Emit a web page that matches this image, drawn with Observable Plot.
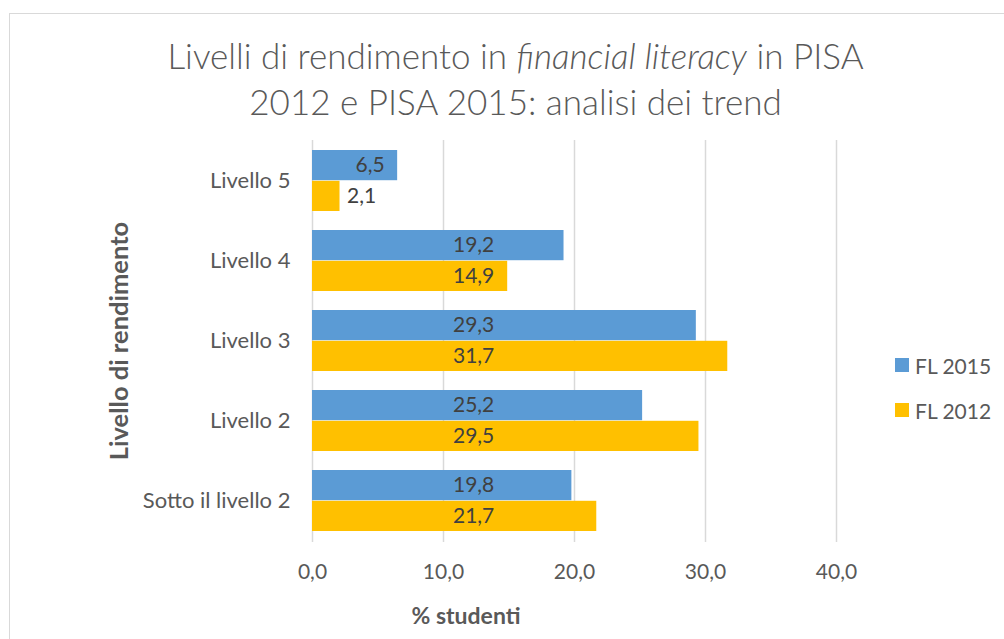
<!DOCTYPE html>
<html>
<head>
<meta charset="utf-8">
<script src="https://cdn.jsdelivr.net/npm/d3@7"></script>
<script src="https://cdn.jsdelivr.net/npm/@observablehq/plot@0.6"></script>
<style>
  html, body { margin: 0; padding: 0; background: #fff; }
  #wrap { position: relative; width: 1004px; height: 639px; overflow: hidden; font-family: Lato, "Open Sans", sans-serif; color: #595959; }
  #border { position: absolute; left: 9px; top: 13px; width: 1100px; height: 800px; border: 1.5px solid #d9d9d9; box-sizing: border-box; }
  #chart { position: absolute; left: 0; top: 0; }
  #title { position: absolute; left: 0; top: 32px; width: 1031px; text-align: center; font-size: 35px; font-weight: 300; line-height: 46px; color: #595959; }
  #ytitle { position: absolute; left: 118px; top: 341px; transform: translate(-50%, -50%) rotate(-90deg); white-space: nowrap; font-weight: bold; font-size: 25.5px; color: #595959; }
  #xtitle { position: absolute; left: 466px; top: 615px; transform: translate(-50%, -50%); white-space: nowrap; font-weight: bold; font-size: 23px; color: #595959; }
  .leg { position: absolute; left: 895px; display: flex; align-items: center; font-size: 21px; color: #595959; white-space: nowrap; }
  .leg span.sw { display: inline-block; width: 14px; height: 14px; margin-right: 6px; }
</style>
</head>
<body>
<div id="wrap">
  <div id="border"></div>
  <div id="chart"></div>
  <div id="title">Livelli di rendimento in <i>financial literacy</i> in PISA<br>2012 e PISA 2015: analisi dei trend</div>
  <div id="ytitle">Livello di rendimento</div>
  <div id="xtitle">% studenti</div>
  <div id="legend"></div>
</div>
<script>
const levels = ["Livello 5", "Livello 4", "Livello 3", "Livello 2", "Sotto il livello 2"];
const values2015 = [6.5, 19.2, 29.3, 25.2, 19.8];
const values2012 = [2.1, 14.9, 31.7, 29.5, 21.7];
const seriesNames = ["FL 2015", "FL 2012"];
const seriesColors = ["#5B9BD5", "#FFC000"];
const xTicks = [0, 10, 20, 30, 40];

const fmt = d => d.toFixed(1).replace(".", ",");

const rows2015 = levels.map((level, i) => ({level, value: values2015[i], series: seriesNames[0]}));
const rows2012 = levels.map((level, i) => ({level, value: values2012[i], series: seriesNames[1]}));

const W = 1004, H = 639;
const mL = 312, mR = 168, mT = 140, mB = 97;
const padIn = 0.234, padOut = 0.117;
const step = (H - mT - mB) / (levels.length - padIn + 2 * padOut);
const bw = step * (1 - padIn);
const half = bw / 2;

// label placement rule (Excel-like): small bars outside/inside end, large bars at a common position
const labelMid = 12.3;
function labelMarks(rows, dy) {
  const outside = rows.filter(d => d.value < 5);
  const insideEnd = rows.filter(d => d.value >= 5 && d.value < 10);
  const mid = rows.filter(d => d.value >= 10);
  return [
    Plot.text(outside, {x: "value", y: "level", text: d => fmt(d.value), textAnchor: "start", dx: 7, dy, fill: "#404040", fontSize: 21}),
    Plot.text(insideEnd, {x: "value", y: "level", text: d => fmt(d.value), textAnchor: "end", dx: -13, dy, fill: "#404040", fontSize: 21}),
    Plot.text(mid, {x: () => labelMid, y: "level", text: d => fmt(d.value), textAnchor: "middle", dy, fill: "#404040", fontSize: 21})
  ];
}

const chart = Plot.plot({
  width: W,
  height: H,
  marginLeft: mL,
  marginRight: mR,
  marginTop: mT,
  marginBottom: mB,
  style: {fontFamily: "Lato, 'Open Sans', sans-serif", fontSize: "21px", color: "#595959", background: "transparent", overflow: "visible"},
  x: {domain: [0, 40], label: null},
  y: {domain: levels, paddingInner: padIn, paddingOuter: padOut, label: null},
  marks: [
    Plot.ruleX(xTicks, {stroke: "#d9d9d9", strokeWidth: 1.5}),
    Plot.axisX({ticks: xTicks, tickFormat: fmt, tickSize: 0, tickPadding: 22, fontSize: 21, label: null}),
    Plot.axisY({tickSize: 0, tickPadding: 22, fontSize: 22, label: null}),
    Plot.barX(rows2015, {x: "value", y: "level", fill: seriesColors[0], insetBottom: half}),
    Plot.barX(rows2012, {x: "value", y: "level", fill: seriesColors[1], insetTop: half}),
    ...labelMarks(rows2015, -half / 2),
    ...labelMarks(rows2012, half / 2)
  ]
});
document.getElementById("chart").appendChild(chart);

// legend
const legend = document.getElementById("legend");
const legTops = [365, 410];
seriesNames.forEach((name, i) => {
  const el = document.createElement("div");
  el.className = "leg";
  el.style.top = (legTops[i] - 13) + "px";
  el.style.height = "26px";
  el.innerHTML = `<span class="sw" style="background:${seriesColors[i]}"></span>${name}`;
  legend.appendChild(el);
});
</script>
</body>
</html>
